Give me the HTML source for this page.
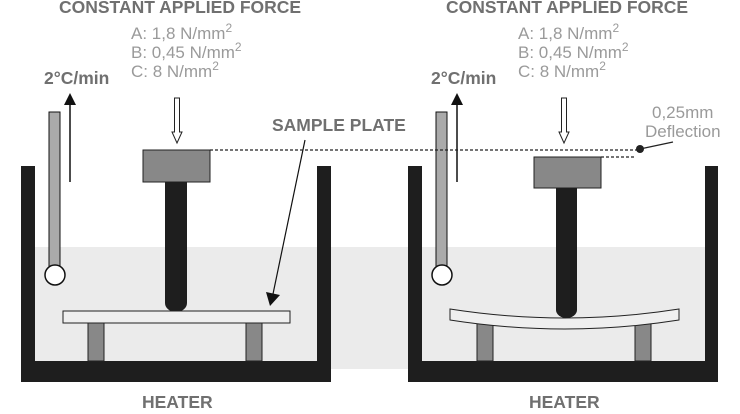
<!DOCTYPE html>
<html><head><style>
body{margin:0;background:#fff}
svg text{font-family:"Liberation Sans",Arial,sans-serif}
.b{font-weight:bold;fill:#707070;font-size:17.5px}
.v{fill:#9a9a9a;font-size:17px}
.s{font-size:12px}
</style></head><body>
<svg width="740" height="409" viewBox="0 0 740 409" xmlns="http://www.w3.org/2000/svg">
<rect x="35" y="247" width="677" height="122" fill="#ebebeb"/>
<defs>
<g id="common">
  <text class="b" x="59" y="13">CONSTANT APPLIED FORCE</text>
  <text class="v" x="131" y="39">A: 1,8 N/mm<tspan class="s" dy="-7">2</tspan></text>
  <text class="v" x="131" y="58">B: 0,45 N/mm<tspan class="s" dy="-7">2</tspan></text>
  <text class="v" x="131" y="77">C: 8 N/mm<tspan class="s" dy="-7">2</tspan></text>
  <text class="b" x="44" y="84">2°C/min</text>
  <text class="b" x="142" y="408">HEATER</text>
  <rect x="21" y="166" width="14" height="216" fill="#1e1e1e"/>
  <rect x="21" y="361" width="310" height="21" fill="#1e1e1e"/>
  <rect x="49" y="112" width="11" height="156" fill="#aaa" stroke="#111" stroke-width="1"/>
  <circle cx="55" cy="275" r="10" fill="#fff" stroke="#111" stroke-width="1.5"/>
  <line x1="70" y1="182" x2="70" y2="102" stroke="#111" stroke-width="1.5"/>
  <polygon points="64,105 76,105 70,93" fill="#111"/>
  <polygon points="174.5,98 179.5,98 179.5,132 182,132 177,143 172,132 174.5,132" fill="#fff" stroke="#222" stroke-width="1"/>
</g>
</defs>
<use href="#common"/>
<use href="#common" transform="translate(387,0)"/>
<rect x="317" y="166" width="14" height="216" fill="#1e1e1e"/>
<rect x="705" y="166" width="13" height="216" fill="#1e1e1e"/>
<rect x="143" y="150" width="67" height="32" fill="#888" stroke="#222"/>
<path d="M165,182 H187 V303 A11,9 0 0 1 165,303 Z" fill="#1e1e1e"/>
<rect x="88" y="323" width="16" height="38" fill="#888" stroke="#222"/>
<rect x="246" y="323" width="16" height="38" fill="#888" stroke="#222"/>
<rect x="63" y="311" width="227" height="12" fill="#efefef" stroke="#222"/>
<text class="b" x="272" y="131">SAMPLE PLATE</text>
<line x1="305" y1="140" x2="273" y2="294" stroke="#111" stroke-width="1.2"/>
<polygon points="266,292 280,295 270,306" fill="#111"/>
<line x1="210" y1="150" x2="640" y2="150" stroke="#222" stroke-width="1.3" stroke-dasharray="3,2"/>
<line x1="601" y1="157" x2="634" y2="157" stroke="#222" stroke-width="1.3" stroke-dasharray="3,2"/>
<circle cx="640" cy="149" r="4" fill="#222"/>
<line x1="640" y1="149" x2="673" y2="142" stroke="#222" stroke-width="1.3"/>
<text class="v" x="652" y="118">0,25mm</text>
<text class="v" x="645" y="137">Deflection</text>
<rect x="534" y="157" width="67" height="31" fill="#888" stroke="#222"/>
<rect x="477" y="323" width="16" height="38" fill="#888" stroke="#222"/>
<rect x="635" y="323" width="16" height="38" fill="#888" stroke="#222"/>
<path d="M450,309 Q565,327 679,309 L679,320 Q565,338 450,320 Z" fill="#efefef" stroke="#222"/>
<path d="M556,188 H577 V310 A10.5,8 0 0 1 556,310 Z" fill="#1e1e1e"/>
</svg>
</body></html>
